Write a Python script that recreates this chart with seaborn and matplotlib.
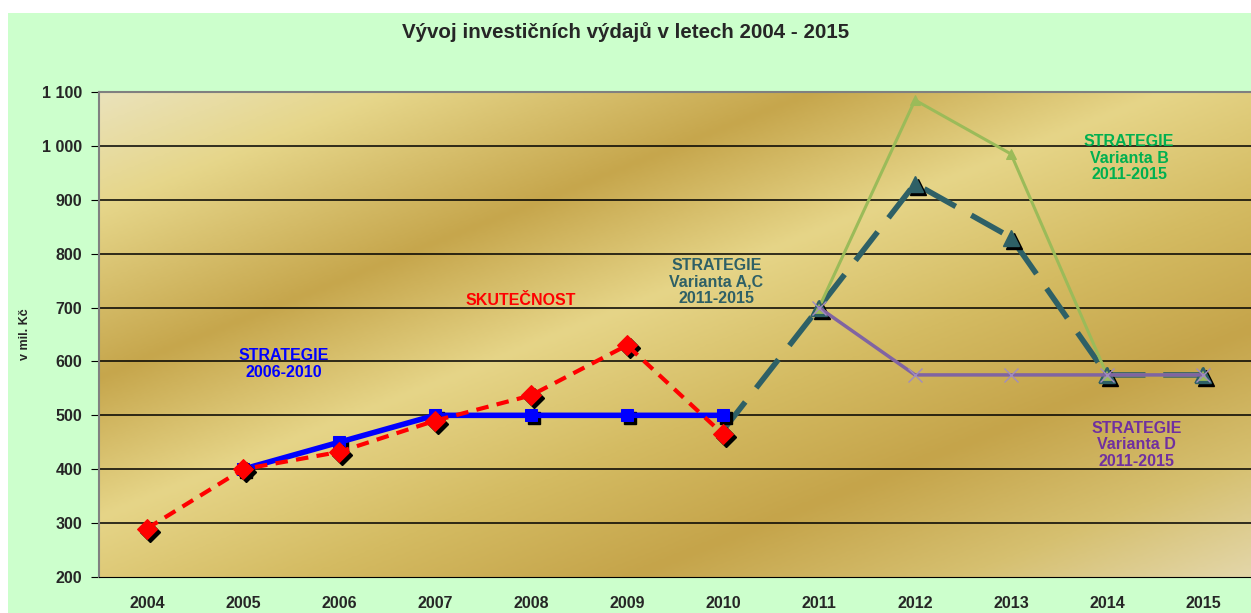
import numpy as np
import pandas as pd
import seaborn as sns
import matplotlib.pyplot as plt
from matplotlib import transforms
from matplotlib.colors import LinearSegmentedColormap
from matplotlib.patches import Rectangle

years = ['2004', '2005', '2006', '2007', '2008', '2009', '2010',
         '2011', '2012', '2013', '2014', '2015']

# skutecnost 2004-2010
real_years = ['2004', '2005', '2006', '2007', '2008', '2009', '2010']
real_vals = [290, 400, 432, 490, 537, 630, 465]

# strategie 2006-2010
s1_years = ['2005', '2006', '2007', '2008', '2009', '2010']
s1_vals = [400, 450, 500, 500, 500, 500]

# varianta A,C
ac_years = ['2010', '2011', '2012', '2013', '2014', '2015']
ac_vals = [472, 700, 930, 830, 575, 575]

# varianta B
b_years = ['2011', '2012', '2013', '2014', '2015']
b_vals = [700, 1085, 985, 575, 575]

# varianta D
d_years = ['2011', '2012', '2013', '2014', '2015']
d_vals = [700, 575, 575, 575, 575]

sns.set_style('white')
plt.rcParams['font.family'] = ['Liberation Sans', 'DejaVu Sans']

fig = plt.figure(figsize=(12.51, 6.13), dpi=100)
fig.patch.set_facecolor('white')
fig.patches.append(Rectangle((8 / 1251, 0), 1, 1 - 13 / 613, transform=fig.transFigure,
                             facecolor='#CCFFCC', edgecolor='none', zorder=-10))
ax = fig.add_axes([99 / 1251, 1 - 577 / 613, 1 - 99 / 1251, (577 - 92) / 613])


def xpos(ys):
    return [years.index(y) for y in ys]


# gold gradient background (flat diagonal bands like the excel preset)
gold = LinearSegmentedColormap.from_list('gold', [
    (0.0, '#EAE2BA'), (0.12, '#E6D68A'), (0.30, '#C6A64C'), (0.45, '#E6D588'),
    (0.60, '#D4BB62'), (0.74, '#C5A44A'), (0.88, '#D6C070'), (1.0, '#E3D6A8')])
gx, gy = np.meshgrid(np.linspace(0, 1152, 400), np.linspace(0, 485, 170))
grad = (gy + 0.4 * gx) / (485 + 0.4 * 1152)
ax.imshow(grad, cmap=gold, extent=(-0.5, 11.5, 200, 1100), aspect='auto',
          origin='upper', zorder=0, interpolation='bicubic')

for v in range(300, 1100, 100):
    ax.axhline(v, color='black', lw=1.1, zorder=1)

shadow = transforms.offset_copy(ax.transData, fig=fig, x=2.5, y=-3, units='dots')

# varianta A,C
sns.lineplot(x=xpos(ac_years), y=ac_vals, ax=ax, color='#2E6066', lw=4,
             linestyle='--', zorder=3)
ax.lines[-1].set_dashes((6.5, 3.2))
ax.plot(xpos(ac_years)[1:], ac_vals[1:], 'k^', ms=11, transform=shadow, zorder=3)
ax.plot(xpos(ac_years)[1:], ac_vals[1:], '^', color='#2E6066', ms=11, zorder=3)

# varianta B
sns.lineplot(x=xpos(b_years), y=b_vals, ax=ax, color='#9BBB59', lw=2.2,
             marker='^', markersize=7, markerfacecolor='#9BBB59',
             markeredgecolor='#9BBB59', zorder=4)
ax.plot(xpos(b_years)[::3], b_vals[::3], '^', color='#9BBB59', ms=10,
        markeredgecolor='#2E6066', markeredgewidth=1.6, zorder=4)
ax.plot(xpos(b_years)[4:], b_vals[4:], '^', color='#9BBB59', ms=10,
        markeredgecolor='#2E6066', markeredgewidth=1.6, zorder=4)

# varianta D
sns.lineplot(x=xpos(d_years), y=d_vals, ax=ax, color='#8064A2', lw=2.5,
             marker='x', markersize=10, markeredgewidth=1,
             markeredgecolor='#A08CC0', zorder=5)

# strategie 2006-2010
ax.plot(xpos(s1_years), s1_vals, 'ks', ms=8, transform=shadow, zorder=6)
sns.lineplot(x=xpos(s1_years), y=s1_vals, ax=ax, color='#0000FF', lw=4,
             marker='s', markersize=9, markeredgecolor='#0000FF', zorder=6)

# skutecnost
ax.plot(xpos(real_years), real_vals, 'kD', ms=10, transform=shadow, zorder=7)
sns.lineplot(x=xpos(real_years), y=real_vals, ax=ax, color='#FF0000', lw=3,
             linestyle='--', marker='D', markersize=10, markeredgecolor='#FF0000', zorder=7)
ax.lines[-1].set_dashes((3, 2))

ax.set_xlim(-0.5, 11.5)
ax.set_ylim(200, 1100)
ax.set_xticks(range(len(years)))
ax.set_xticklabels(years, fontsize=11.5, fontweight='bold')
ax.set_xticks(np.arange(0.5, 11.5, 1), minor=True)
ax.tick_params(axis='x', which='major', length=0, pad=14)
ax.tick_params(axis='x', which='minor', length=6, color='black', direction='out')
ax.set_yticks(range(200, 1101, 100))
ax.set_yticklabels([f'{v:,}'.replace(',', ' ') for v in range(200, 1101, 100)],
                   fontsize=11.5, fontweight='bold')
ax.tick_params(axis='y', length=6, color='black', direction='out', pad=6, left=True)
ax.set_ylabel('v mil. Kč', fontsize=9, fontweight='bold', labelpad=8)
for s in ['top', 'left']:
    ax.spines[s].set_color('#808080')
    ax.spines[s].set_linewidth(1.5)
ax.spines['bottom'].set_color('black')
ax.spines['right'].set_visible(False)

fig.text(0.5, 1 - 32 / 613, 'Vývoj investičních výdajů v letech 2004 - 2015',
         ha='center', va='center', fontsize=14.8, fontweight='bold')

def note(x, y, s, c):
    ax.text(x, y, s, color=c, ha='center', va='center', fontsize=11.5,
            fontweight='bold', linespacing=1.12, zorder=8)

note(1.42, 595, 'STRATEGIE\n2006-2010', '#0000FF')
note(3.89, 714, 'SKUTEČNOST', '#FF0000')
note(5.93, 747, 'STRATEGIE\nVarianta A,C\n2011-2015', '#2E6066')
note(10.23, 977, 'STRATEGIE\nVarianta B\n2011-2015', '#00B050')
note(10.31, 445, 'STRATEGIE\nVarianta D\n2011-2015', '#7030A0')

fig.savefig('out.png', dpi=100)
